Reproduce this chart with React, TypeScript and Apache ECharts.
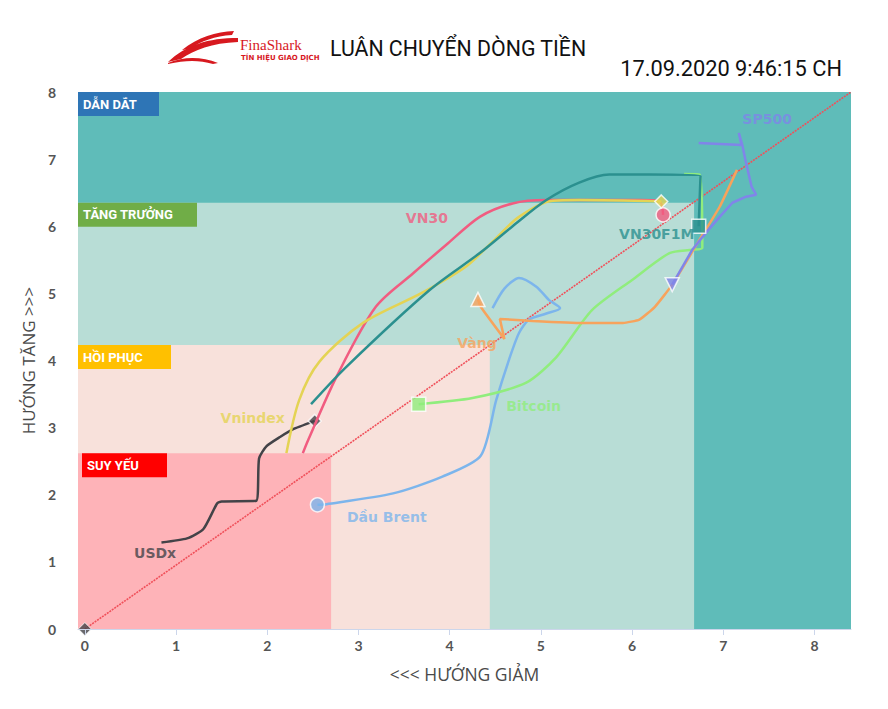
import React, { useEffect, useRef } from "react";
import * as echarts from "echarts";

// ---------- data ----------
const xTicks = [0, 1, 2, 3, 4, 5, 6, 7, 8];
const yTicks = [0, 1, 2, 3, 4, 5, 6, 7, 8];
const xMin = -0.075;
const xMax = 8.4;
const yMax = 8;

const zoneNames = ["DẪN DẮT", "TĂNG TRƯỞNG", "HỒI PHỤC", "SUY YẾU"];
const zoneRight = [8.4, 6.68, 4.44, 2.7];
const zoneTop = [8, 6.35, 4.23, 2.62];

const seriesNames = ["Dầu Brent", "USDx", "Bitcoin", "Vàng", "SP500", "VN30", "Vnindex", "VN30F1M"];

const dauBrent = [
  [4.47, 4.78], [4.6, 5.07], [4.76, 5.23], [4.95, 5.1], [5.09, 4.9], [5.21, 4.78],
  [5.06, 4.7], [4.87, 4.61], [4.76, 4.41], [4.65, 4.01], [4.51, 3.41], [4.34, 2.58],
  [3.92, 2.27], [3.38, 2.02], [2.65, 1.86], [2.55, 1.85],
];
const usdx = [
  [0.84, 1.29], [1.12, 1.35], [1.3, 1.49], [1.45, 1.87], [1.5, 1.9], [1.88, 1.91],
  [1.91, 2.54], [1.99, 2.72], [2.14, 2.86], [2.29, 2.98], [2.52, 3.1],
];
const bitcoin = [
  [6.57, 6.78], [6.74, 6.77], [6.77, 5.68], [6.66, 5.65], [6.41, 5.6], [6.0, 5.2],
  [5.56, 4.75], [5.17, 4.05], [4.84, 3.67], [4.25, 3.44], [3.66, 3.35],
];
const vang = [
  [7.15, 6.84], [6.96, 6.29], [6.74, 5.8], [6.44, 5.13], [6.25, 4.8], [6.08, 4.61],
  [5.9, 4.56], [5.46, 4.56], [4.91, 4.59], [4.55, 4.62], [4.6, 4.32], [4.34, 4.8], [4.31, 4.91],
];
const sp500 = [
  [6.73, 7.24], [7.2, 7.21], [7.17, 7.39], [7.21, 7.2], [7.25, 6.94], [7.31, 6.59],
  [7.36, 6.47], [7.25, 6.44], [7.1, 6.35], [6.96, 6.14], [6.82, 5.92], [6.66, 5.65], [6.44, 5.13],
];
const vn30 = [
  [2.39, 2.62], [2.45, 2.82], [2.76, 3.76], [3.19, 4.8], [3.6, 5.3], [3.96, 5.72],
  [4.33, 6.14], [4.69, 6.34], [5.06, 6.39], [6.08, 6.39], [6.3, 6.37], [6.34, 6.17],
];
const vnindex = [
  [2.21, 2.62], [2.35, 3.41], [2.57, 3.98], [3.05, 4.56], [3.7, 5.01], [4.18, 5.4],
  [4.47, 5.77], [4.76, 6.14], [5.13, 6.38], [5.42, 6.39], [6.32, 6.37],
];
const vn30f1m = [
  [2.48, 3.35], [2.87, 3.91], [3.78, 5.05], [4.33, 5.6], [4.69, 6.0], [5.06, 6.39],
  [5.42, 6.65], [5.75, 6.77], [6.19, 6.77], [6.75, 6.75], [6.73, 6.0],
];
const seriesData = [dauBrent, usdx, bitcoin, vang, sp500, vn30, vnindex, vn30f1m];

const labelX = [3.31, 0.77, 4.92, 4.3, 7.48, 3.75, 1.84, 6.27];
const labelY = [1.67, 1.13, 3.32, 4.26, 7.6, 6.12, 3.14, 5.88];

const diagonal = [[0, 0], [xMax, yMax]];

// ---------- styles ----------
const zoneFill = ["#5fbcb9", "#b8ddd6", "#f8e1db", "#feb3b8"];
const zoneTag = ["#2e75b6", "#70ad47", "#ffc000", "#ff0000"];
const zoneTagWidth = [81, 119, 93, 85];
const zoneTagOffset = [[0, 0], [0, 0], [0, 0], [4, 0]];
const seriesColors = ["#7cb5ec", "#434348", "#90ed7d", "#f7a35c", "#8085e9", "#f15c80", "#e4d354", "#2b908f"];
const seriesSymbols = ["circle", "diamond", "rect", "triangle", "triangle", "circle", "diamond", "rect"];
const symbolRotate = [0, 0, 0, 0, 180, 0, 0, 0];
const symbolSizes = [14, 13, 14, 14, 14, 14, 13, 14];
const smoothing = [0.25, 0.2, 0.25, 0.15, 0, 0.3, 0.3, 0.3];

const LOGO_A = "M168,62 C186,45 208,38 238,38 L238,42 C212,43 194,50 181,59 Z";
const LOGO_B = "M182,50 C198,37 216,32 234,31 L232,35 C215,36 201,41 190,49 Z";
const LOGO_C = "M168,63 C185,56 202,57 218,63 L213,64 C199,60 186,60 168,64 Z";

export default function App() {
  const ref = useRef<HTMLDivElement>(null);

  useEffect(() => {
    if (!ref.current) return;
    echarts.graphic.registerShape("logoA", echarts.graphic.extendPath(LOGO_A, {}));
    echarts.graphic.registerShape("logoB", echarts.graphic.extendPath(LOGO_B, {}));
    echarts.graphic.registerShape("logoC", echarts.graphic.extendPath(LOGO_C, {}));
    const chart = echarts.init(ref.current, undefined, { renderer: "svg" });

    const markAreaData = zoneNames.map((name, i) => [
      {
        name,
        xAxis: xMin,
        yAxis: 0,
        itemStyle: { color: zoneFill[i], opacity: 1 },
        label: {
          show: true,
          position: "insideTopLeft",
          distance: 0,
          offset: zoneTagOffset[i],
          formatter: name,
          color: "#fff",
          fontSize: 13,
          fontWeight: "bold",
          fontFamily: "Roboto",
          backgroundColor: zoneTag[i],
          padding: [5, 0, 5, 5],
          width: zoneTagWidth[i] - 5,
          lineHeight: 14,
        },
      },
      { xAxis: zoneRight[i], yAxis: zoneTop[i] },
    ]);

    const lineSeries = seriesData.map((d, i) => ({
      type: "line",
      name: seriesNames[i],
      data: d,
      smooth: smoothing[i] || false,
      symbol: "none",
      lineStyle: { color: seriesColors[i], width: 2.5 },
      itemStyle: { color: seriesColors[i] },
      z: 3 + i,
      silent: true,
    }));

    const markerSeries = seriesData.map((d, i) => ({
      type: "scatter",
      data: [d[d.length - 1]],
      symbol: seriesSymbols[i],
      symbolSize: symbolSizes[i],
      symbolRotate: symbolRotate[i],
      itemStyle: { color: seriesColors[i], borderColor: "#fff", borderWidth: 1.5 },
      z: 3 + i,
      silent: true,
    }));

    const labelSeries = {
      type: "scatter",
      symbolSize: 0,
      silent: true,
      z: 20,
      data: seriesNames.map((n, i) => ({
        value: [labelX[i], labelY[i]],
        name: n,
        label: {
          show: true,
          position: "inside",
          formatter: n,
          color: seriesColors[i],
          fontSize: 14,
          fontWeight: "bold",
          fontFamily: "DejaVu Sans",
        },
      })),
    };

    chart.setOption({
      animation: false,
      backgroundColor: "#fff",
      grid: { left: 78, right: 37, top: 92, bottom: 80, containLabel: false },
      xAxis: {
        type: "value",
        min: xMin,
        max: xMax,
        splitLine: { show: false },
        axisLine: { show: true, lineStyle: { color: "#ccd6eb", width: 1 } },
        axisTick: { show: true, length: 6, lineStyle: { color: "#ccd6eb" }, customValues: xTicks },
        axisLabel: { color: "#555", fontSize: 14, fontFamily: "Lato", fontWeight: "bold", margin: 9, customValues: xTicks },
        name: "<<< HƯỚNG GIẢM",
        nameLocation: "middle",
        nameGap: 36,
        nameTextStyle: { color: "#4a4a4a", fontSize: 17.5, fontFamily: "Open Sans" },
        z: 30,
      },
      yAxis: {
        type: "value",
        min: 0,
        max: yMax,
        splitLine: { show: false },
        axisLine: { show: false },
        axisTick: { show: false },
        axisLabel: { color: "#555", fontSize: 14, fontFamily: "Lato", fontWeight: "bold", margin: 22, customValues: yTicks },
        name: "HƯỚNG TĂNG >>>",
        nameLocation: "middle",
        nameGap: 40,
        nameTextStyle: { color: "#4a4a4a", fontSize: 17, fontFamily: "Open Sans" },
      },
      series: [
        {
          type: "line",
          data: diagonal,
          symbol: "none",
          lineStyle: { color: "#f0505a", width: 1.6, type: [2, 1] },
          z: 2,
          silent: true,
          markArea: { silent: true, data: markAreaData },
        },
        {
          type: "scatter",
          data: [diagonal[0]],
          symbol: "diamond",
          symbolSize: 13,
          itemStyle: { color: "#434348", borderColor: "#fff", borderWidth: 1 },
          z: 25,
          silent: true,
        },
        ...lineSeries,
        ...markerSeries,
        labelSeries,
      ],
      graphic: [
        { type: "logoA", style: { fill: "#d7191f" } },
        { type: "logoB", style: { fill: "#d7191f" } },
        { type: "logoC", style: { fill: "#d7191f" } },
        {
          type: "text",
          x: 240,
          y: 45,
          style: { text: "FinaShark", fill: "#d7191f", font: "15px 'Liberation Serif'", verticalAlign: "middle" },
        },
        {
          type: "text",
          x: 241,
          y: 58,
          style: { text: "TÍN HIỆU GIAO DỊCH", fill: "#d7191f", font: "bold 7px 'DejaVu Sans'", verticalAlign: "middle" },
        },
        {
          type: "text",
          x: 330,
          y: 48,
          style: { text: "LUÂN CHUYỂN DÒNG TIỀN", fill: "#111", font: "21.3px Roboto", verticalAlign: "middle" },
        },
        {
          type: "text",
          x: 842,
          y: 68,
          style: { text: "17.09.2020 9:46:15 CH", fill: "#111", font: "21.8px Roboto", align: "right", verticalAlign: "middle" },
        },
      ],
    });
    return () => chart.dispose();
  }, []);

  return <div ref={ref} style={{ position: "fixed", left: 0, top: 0, width: 888, height: 709 }} />;
}
